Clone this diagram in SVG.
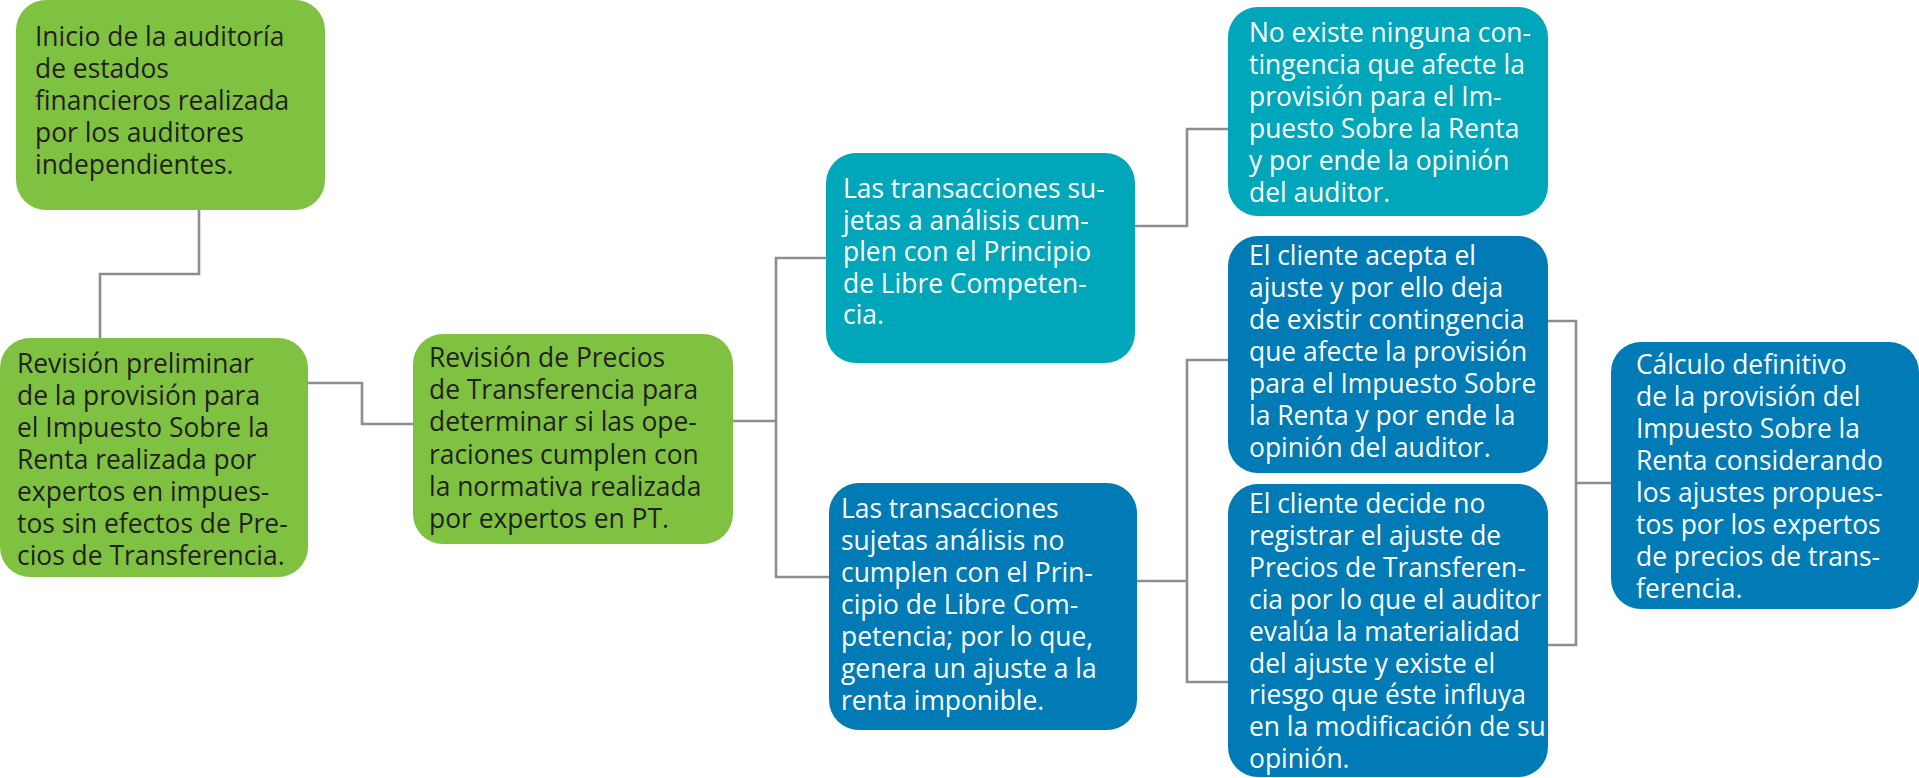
<svg xmlns="http://www.w3.org/2000/svg" width="1919" height="778" viewBox="0 0 1919 778">
<style>
  .green { fill: #7fc242; }
  .teal { fill: #00a7bb; }
  .blue { fill: #007bb5; }
  .t { font-family: "Open Sans", "Noto Sans", "Liberation Sans", sans-serif; font-size: 26.4px; }
  .dark { fill: #231f20; }
  .light { fill: #ffffff; }
  .conn { fill: none; stroke: #8c8e92; stroke-width: 2.6; }
</style>
<rect width="1919" height="778" fill="#ffffff"/>
<g id="connectors">
  <polyline class="conn" points="199,210 199,274 100,274 100,338"/>
  <polyline class="conn" points="308,383 362,383 362,424 413,424"/>
  <polyline class="conn" points="733,421 776,421"/>
  <polyline class="conn" points="826,258 776,258 776,577 829,577"/>
  <polyline class="conn" points="1135,226 1187,226 1187,129 1228,129"/>
  <polyline class="conn" points="1137,581 1187,581"/>
  <polyline class="conn" points="1228,360 1187,360 1187,682 1228,682"/>
  <polyline class="conn" points="1548,321 1576,321 1576,645 1548,645"/>
  <polyline class="conn" points="1576,483 1611,483"/>
</g>
<g id="n1">
  <rect class="green" x="16" y="0" width="309" height="210" rx="30"/>
  <text class="t dark"><tspan x="35" y="46">Inicio de la auditoría</tspan><tspan x="35" dy="32">de estados</tspan><tspan x="35" dy="32">financieros realizada</tspan><tspan x="35" dy="32">por los auditores</tspan><tspan x="35" dy="32">independientes.</tspan></text>
</g>
<g id="n2">
  <rect class="green" x="0" y="338" width="308" height="239" rx="30"/>
  <text class="t dark"><tspan x="17" y="373">Revisión preliminar</tspan><tspan x="17" dy="32">de la provisión para</tspan><tspan x="17" dy="32">el Impuesto Sobre la</tspan><tspan x="17" dy="32">Renta realizada por</tspan><tspan x="17" dy="32">expertos en impues-</tspan><tspan x="17" dy="32">tos sin efectos de Pre-</tspan><tspan x="17" dy="32">cios de Transferencia.</tspan></text>
</g>
<g id="n3">
  <rect class="green" x="413" y="334" width="320" height="210" rx="30"/>
  <text class="t dark"><tspan x="429" y="367">Revisión de Precios</tspan><tspan x="429" dy="32.2">de Transferencia para</tspan><tspan x="429" dy="32.2">determinar si las ope-</tspan><tspan x="429" dy="32.2">raciones cumplen con</tspan><tspan x="429" dy="32.2">la normativa realizada</tspan><tspan x="429" dy="32.2">por expertos en PT.</tspan></text>
</g>
<g id="n4">
  <rect class="teal" x="826" y="153" width="309" height="210" rx="30"/>
  <text class="t light"><tspan x="843" y="198">Las transacciones su-</tspan><tspan x="843" dy="31.5">jetas a análisis cum-</tspan><tspan x="843" dy="31.5">plen con el Principio</tspan><tspan x="843" dy="31.5">de Libre Competen-</tspan><tspan x="843" dy="31.5">cia.</tspan></text>
</g>
<g id="n5">
  <rect class="blue" x="829" y="483" width="308" height="247" rx="30"/>
  <text class="t light"><tspan x="841" y="518">Las transacciones</tspan><tspan x="841" dy="32">sujetas análisis no</tspan><tspan x="841" dy="32">cumplen con el Prin-</tspan><tspan x="841" dy="32">cipio de Libre Com-</tspan><tspan x="841" dy="32">petencia; por lo que,</tspan><tspan x="841" dy="32">genera un ajuste a la</tspan><tspan x="841" dy="32">renta imponible.</tspan></text>
</g>
<g id="n6">
  <rect class="teal" x="1228" y="7" width="320" height="209" rx="30"/>
  <text class="t light"><tspan x="1249" y="42">No existe ninguna con-</tspan><tspan x="1249" dy="32">tingencia que afecte la</tspan><tspan x="1249" dy="32">provisión para el Im-</tspan><tspan x="1249" dy="32">puesto Sobre la Renta</tspan><tspan x="1249" dy="32">y por ende la opinión</tspan><tspan x="1249" dy="32">del auditor.</tspan></text>
</g>
<g id="n7">
  <rect class="blue" x="1228" y="236" width="320" height="237" rx="30"/>
  <text class="t light"><tspan x="1249" y="265">El cliente acepta el</tspan><tspan x="1249" dy="32">ajuste y por ello deja</tspan><tspan x="1249" dy="32">de existir contingencia</tspan><tspan x="1249" dy="32">que afecte la provisión</tspan><tspan x="1249" dy="32">para el Impuesto Sobre</tspan><tspan x="1249" dy="32">la Renta y por ende la</tspan><tspan x="1249" dy="32">opinión del auditor.</tspan></text>
</g>
<g id="n8">
  <rect class="blue" x="1228" y="484" width="320" height="293" rx="30"/>
  <text class="t light"><tspan x="1249" y="513">El cliente decide no</tspan><tspan x="1249" dy="31.9">registrar el ajuste de</tspan><tspan x="1249" dy="31.9">Precios de Transferen-</tspan><tspan x="1249" dy="31.9">cia por lo que el auditor</tspan><tspan x="1249" dy="31.9">evalúa la materialidad</tspan><tspan x="1249" dy="31.9">del ajuste y existe el</tspan><tspan x="1249" dy="31.9">riesgo que éste influya</tspan><tspan x="1249" dy="31.9">en la modificación de su</tspan><tspan x="1249" dy="31.9">opinión.</tspan></text>
</g>
<g id="n9">
  <rect class="blue" x="1611" y="342" width="308" height="267" rx="30"/>
  <text class="t light"><tspan x="1636" y="374">Cálculo definitivo</tspan><tspan x="1636" dy="32">de la provisión del</tspan><tspan x="1636" dy="32">Impuesto Sobre la</tspan><tspan x="1636" dy="32">Renta considerando</tspan><tspan x="1636" dy="32">los ajustes propues-</tspan><tspan x="1636" dy="32">tos por los expertos</tspan><tspan x="1636" dy="32">de precios de trans-</tspan><tspan x="1636" dy="32">ferencia.</tspan></text>
</g>
</svg>
